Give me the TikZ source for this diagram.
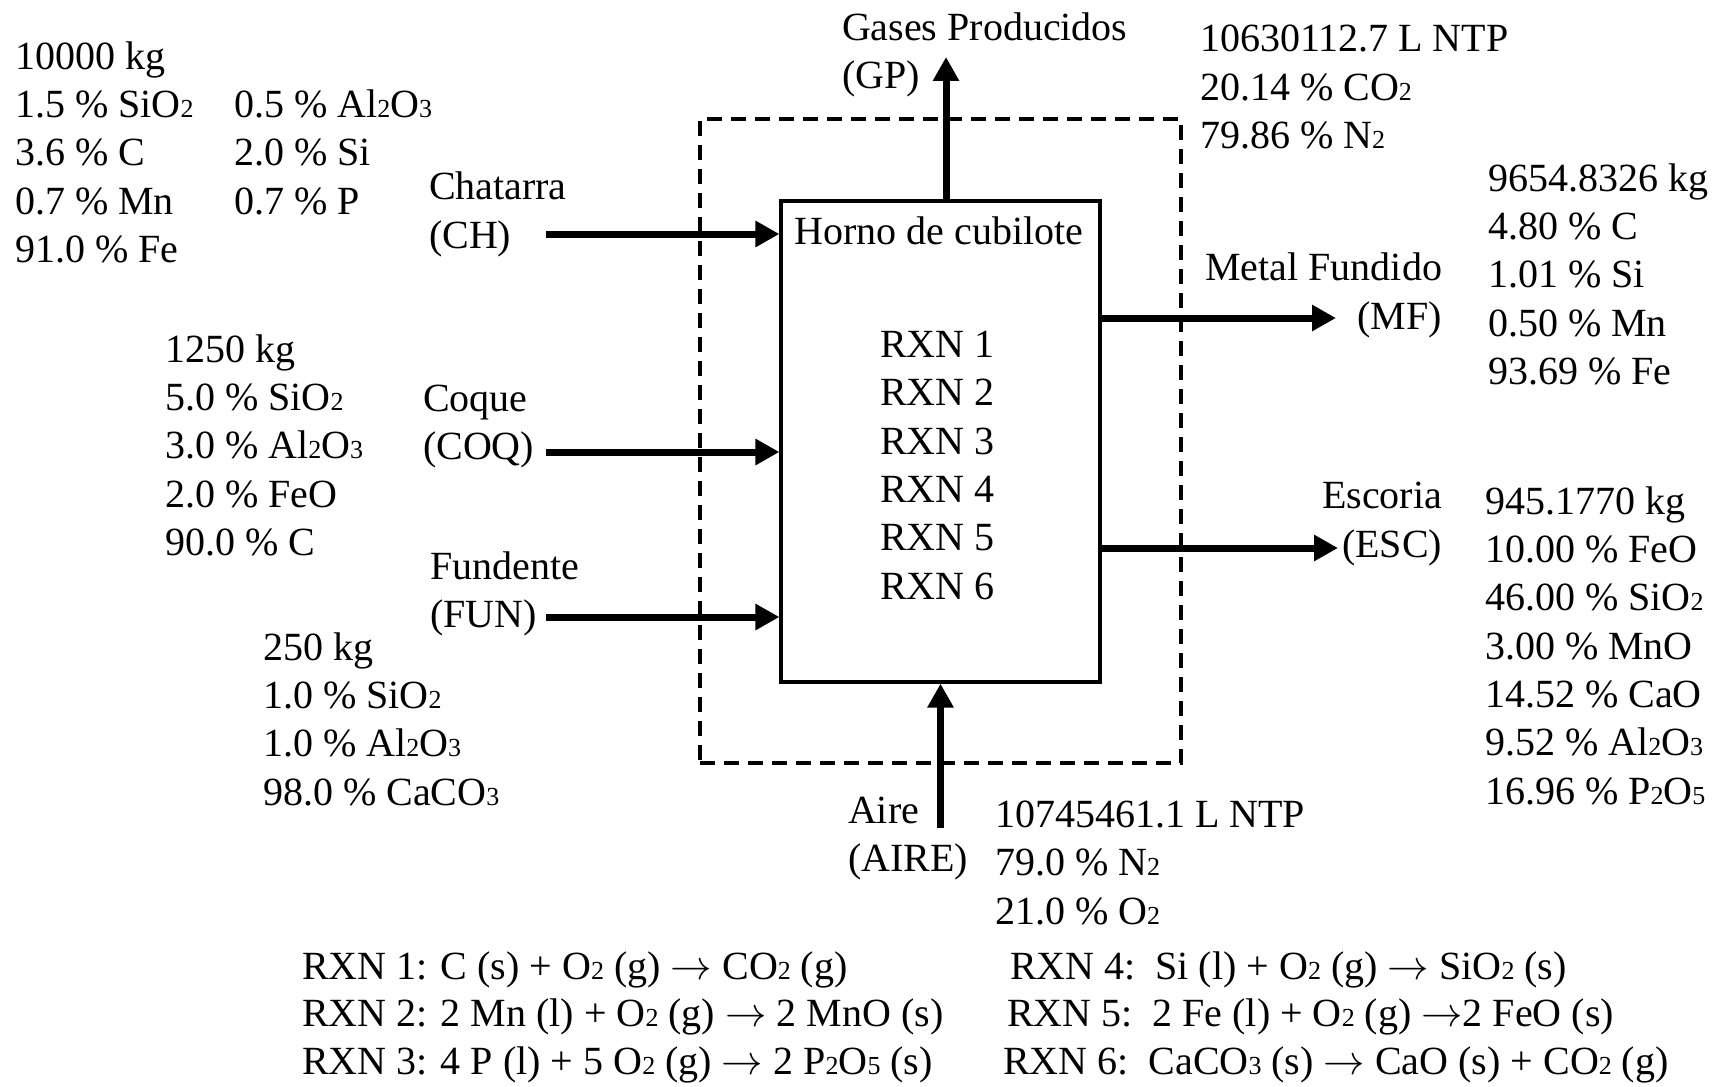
\documentclass[tikz,border=0pt]{standalone}
\usepackage{fontspec}
\setmainfont{Liberation Serif}
\usetikzlibrary{arrows.meta}
% small chemical subscripts sitting on the baseline
\newcommand{\chemsub}[1]{{\fontsize{13}{13}\selectfont #1}}
% reaction arrow
\newcommand{\rxarrow}{$\rightarrow$}
\begin{document}
\begin{tikzpicture}[x=0.5pt,y=-0.5pt,
  txt/.style={inner sep=0pt, outer sep=0pt, font=\fontsize{20}{24.15}\selectfont, align=left},
  flow/.style={line width=3.5pt, -{Triangle[length=12pt,width=12.5pt]}},
  furnacebox/.style={draw, line width=1.6pt, minimum width=159.5pt, minimum height=240.5pt, inner sep=0pt},
  boundary/.style={draw, line width=1.6pt, dash pattern=on 7.5pt off 4.5pt, minimum width=240.5pt, minimum height=322pt, inner sep=0pt}
]
\useasboundingbox (0,0) rectangle (1722,1086);

% system boundary and furnace
\node[boundary] (sysbound) at (940.5,441) {};
\node[furnacebox] (furnace) at (940.5,441.5) {};
\node[txt, anchor=base] (furnaceTitle) at (939,244) {Horno de cubilote};
% multi-line nodes: the base anchor sits on the last line
\node[txt, anchor=base west] (rxnList) at (880,599) {RXN 1\\RXN 2\\RXN 3\\RXN 4\\RXN 5\\RXN 6};

% scrap feed
\node[txt, anchor=base west] (chA) at (15,262.5) {10000 kg\\1.5 \% SiO\chemsub{2}\\3.6 \% C\\0.7 \% Mn\\91.0 \% Fe};
\node[txt, anchor=base west] (chB) at (234,214) {0.5 \% Al\chemsub{2}O\chemsub{3}\\2.0 \% Si\\0.7 \% P};
\node[txt, anchor=base west] (chLabel) at (429,248) {Chatarra\\(CH)};

% coke feed
\node[txt, anchor=base west] (coqA) at (165,555.5) {1250 kg\\5.0 \% SiO\chemsub{2}\\3.0 \% Al\chemsub{2}O\chemsub{3}\\2.0 \% FeO\\90.0 \% C};
\node[txt, anchor=base west] (coqLabel) at (423,459.5) {Coque\\(COQ)};

% flux feed
\node[txt, anchor=base west] (funLabel) at (430,627.5) {Fundente\\(FUN)};
\node[txt, anchor=base west] (funA) at (263,805) {250 kg\\1.0 \% SiO\chemsub{2}\\1.0 \% Al\chemsub{2}O\chemsub{3}\\98.0 \% CaCO\chemsub{3}};

% off-gas
\node[txt, anchor=base west] (gpLabel) at (842,89) {Gases Producidos\\(GP)};
\node[txt, anchor=base west] (gpA) at (1200,148.5) {10630112.7 L NTP\\20.14 \% CO\chemsub{2}\\79.86 \% N\chemsub{2}};

% molten metal
\node[txt, anchor=base east, align=right] (mfLabel) at (1442,329) {Metal Fundido\\(MF)};
\node[txt, anchor=base west] (mfA) at (1488,384.5) {9654.8326 kg\\4.80 \% C\\1.01 \% Si\\0.50 \% Mn\\93.69 \% Fe};

% slag
\node[txt, anchor=base east, align=right] (escLabel) at (1442,557) {Escoria\\(ESC)};
\node[txt, anchor=base west] (escA) at (1485,804) {945.1770 kg\\10.00 \% FeO\\46.00 \% SiO\chemsub{2}\\3.00 \% MnO\\14.52 \% CaO\\9.52 \% Al\chemsub{2}O\chemsub{3}\\16.96 \% P\chemsub{2}O\chemsub{5}};

% air blast
\node[txt, anchor=base west] (aireLabel) at (848,871.5) {Aire\\(AIRE)};
\node[txt, anchor=base west] (aireA) at (995,924) {10745461.1 L NTP\\79.0 \% N\chemsub{2}\\21.0 \% O\chemsub{2}};

% reactions
\node[txt, anchor=base west] (rxnOne) at (302,979) {RXN 1: C (s) + O\chemsub{2} (g) \rxarrow{} CO\chemsub{2} (g)};
\node[txt, anchor=base west] (rxnTwo) at (302,1026.5) {RXN 2: 2 Mn (l) + O\chemsub{2} (g) \rxarrow{} 2 MnO (s)};
\node[txt, anchor=base west] (rxnThree) at (302,1074.5) {RXN 3: 4 P (l) + 5 O\chemsub{2} (g) \rxarrow{} 2 P\chemsub{2}O\chemsub{5} (s)};
\node[txt, anchor=base west] (rxnFour) at (1010,979) {RXN 4:\hspace{0.5em}Si (l) + O\chemsub{2} (g) \rxarrow{} SiO\chemsub{2} (s)};
\node[txt, anchor=base west] (rxnFive) at (1007,1026.5) {RXN 5:\hspace{0.5em}2 Fe (l) + O\chemsub{2} (g) \rxarrow{}2 FeO (s)};
\node[txt, anchor=base west] (rxnSix) at (1003,1074.5) {RXN 6:\hspace{0.5em}CaCO\chemsub{3} (s) \rxarrow{} CaO (s) + CO\chemsub{2} (g)};

% stream arrows
\coordinate (chIn) at (546,234);
\coordinate (coqIn) at (546,452);
\coordinate (funIn) at (546,617);
\coordinate (gpOut) at (946,57);
\coordinate (mfOut) at (1336,318);
\coordinate (escOut) at (1338,548);
\coordinate (aireIn) at (940.5,828);

\draw[flow] (chIn) -- (chIn -| furnace.west);
\draw[flow] (coqIn) -- (coqIn -| furnace.west);
\draw[flow] (funIn) -- (funIn -| furnace.west);
\draw[flow] (gpOut |- furnace.north) -- (gpOut);
\draw[flow] (mfOut -| furnace.east) -- (mfOut);
\draw[flow] (escOut -| furnace.east) -- (escOut);
\draw[flow] (aireIn) -- (aireIn |- furnace.south);
\end{tikzpicture}
\end{document}
